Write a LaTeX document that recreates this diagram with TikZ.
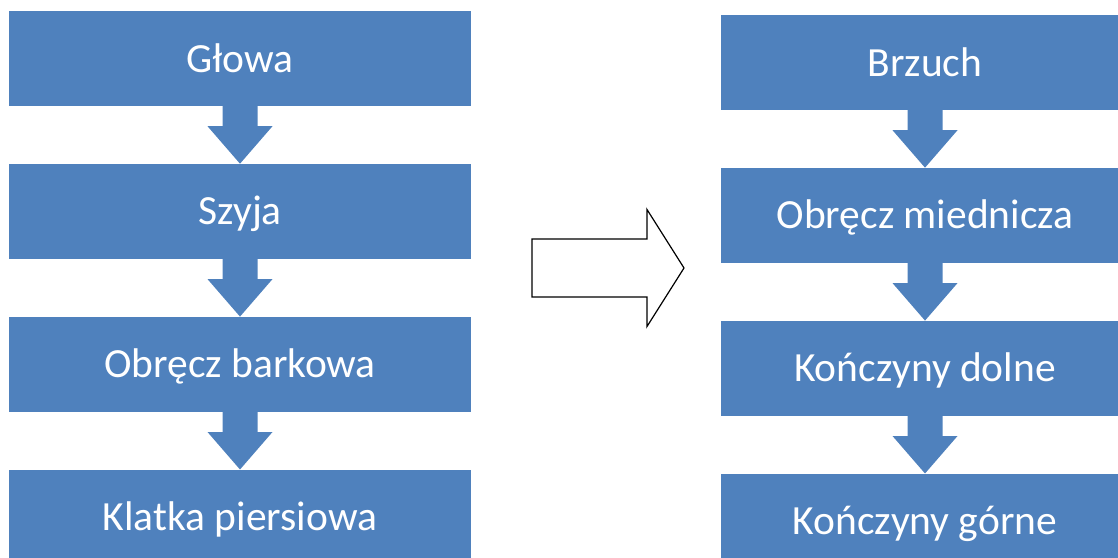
\documentclass[tikz,border=0pt]{standalone}
\usepackage{fontspec}
\setmainfont{Carlito}
\usetikzlibrary{positioning}

\definecolor{boxblue}{RGB}{79,129,189}

% block arrow from the bottom of one box to the top of the next
\newcommand\downarr[2]{%
  \fill[boxblue] ([xshift=-17.5pt]#1.south) -- ([xshift=17.5pt]#1.south)
    -- ([xshift=17.5pt,yshift=-20pt]#1.south)
    -- ([xshift=32.5pt,yshift=-20pt]#1.south) -- (#2.north)
    -- ([xshift=-32.5pt,yshift=-20pt]#1.south)
    -- ([xshift=-17.5pt,yshift=-20pt]#1.south) -- cycle;}

\begin{document}
\begin{tikzpicture}[x=1pt,y=-1pt,
  part/.style={fill=boxblue,text=white,minimum width=462pt,minimum height=95pt,
    inner sep=0pt,text height=27pt,text depth=0pt,
    font=\fontsize{41.5}{50}\selectfont},
  partr/.style={part,minimum width=408pt}]
\useasboundingbox (0,0) rectangle (1118,557);
\clip (0,0) rectangle (1118,557);
% left column
\node[part] (glowa) at (240,58.5) {Głowa};
\node[part,below=57.5pt of glowa] (szyja) {Szyja};
\node[part,below=57.5pt of szyja] (obrb) {Obręcz barkowa};
\node[part,below=57.5pt of obrb] (klatka) {Klatka piersiowa};
\downarr{glowa}{szyja}
\downarr{szyja}{obrb}
\downarr{obrb}{klatka}
% right column
\node[partr] (brzuch) at (925,62.5) {Brzuch};
\node[partr,below=57.5pt of brzuch] (obrm) {Obręcz miednicza};
\node[partr,below=57.5pt of obrm] (kdol) {Kończyny dolne};
\node[partr,below=57.5pt of kdol] (kgor) {Kończyny górne};
\downarr{brzuch}{obrm}
\downarr{obrm}{kdol}
\downarr{kdol}{kgor}
% big hollow arrow
\coordinate (next) at (532,268);
\draw[line width=1.2pt,line join=miter] ([yshift=29pt]next) -- ++(115,0) -- ++(0,-29.5)
  -- ++(37,58.5) -- ++(-37,58.5) -- ++(0,-29.5) -- ++(-115,0) -- cycle;
\end{tikzpicture}
\end{document}
